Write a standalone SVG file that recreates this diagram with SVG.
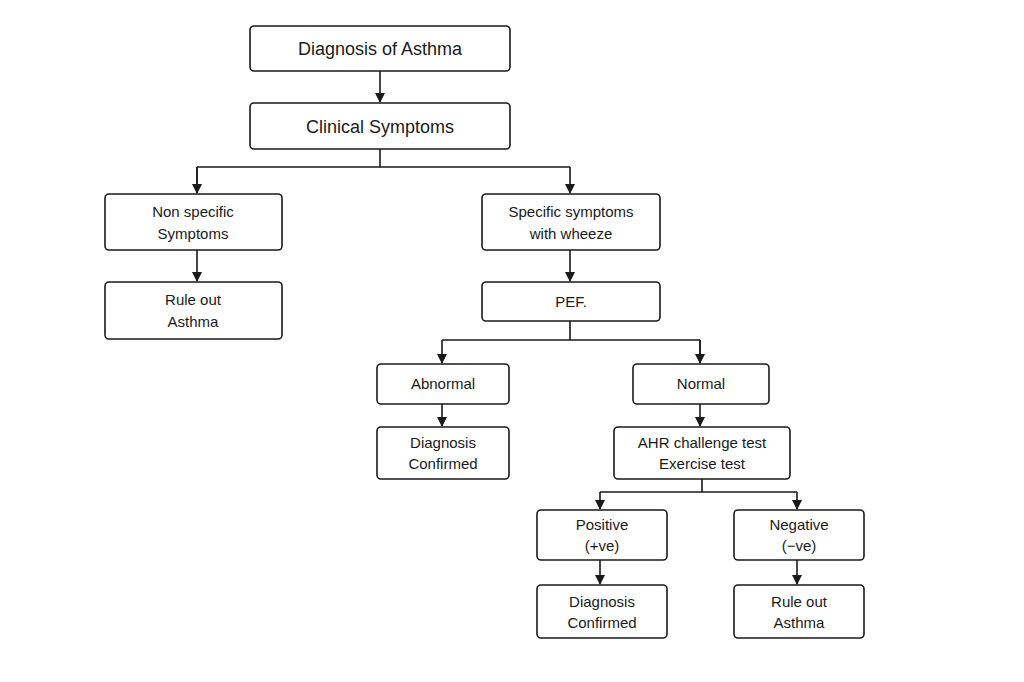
<svg xmlns="http://www.w3.org/2000/svg" width="1024" height="682" viewBox="0 0 1024 682">
<style>
.b{fill:#fff;stroke:#1a1a1a;stroke-width:1.6}
.t{font-family:"Liberation Sans",Arial,sans-serif;font-size:15px;fill:#1a1a1a;text-anchor:middle}
.L{font-size:18px}
.c{fill:none;stroke:#1a1a1a;stroke-width:1.6}
</style>
<defs><marker id="a" markerWidth="10" markerHeight="10" refX="9" refY="5" orient="auto" markerUnits="userSpaceOnUse"><path d="M0,0L10,5L0,10z" fill="#1a1a1a"/></marker></defs>
<rect width="1024" height="682" fill="#fff"/>
<g id="connectors">
<path class="c" d="M380,71V102" marker-end="url(#a)"/>
<path class="c" d="M380,149V167M197,167H570M197,167V193M570,167V193" marker-end="url(#a)"/>
<path class="c" d="M197,167V193" marker-end="url(#a)"/>
<path class="c" d="M197,250V281" marker-end="url(#a)"/>
<path class="c" d="M570,250V281" marker-end="url(#a)"/>
<path class="c" d="M570,321V340M442,340H700M700,340V363"/>
<path class="c" d="M442,340V363" marker-end="url(#a)"/>
<path class="c" d="M700,340V363" marker-end="url(#a)"/>
<path class="c" d="M442,404V426" marker-end="url(#a)"/>
<path class="c" d="M700,404V426" marker-end="url(#a)"/>
<path class="c" d="M702,479V492M600,492H797"/>
<path class="c" d="M600,492V509" marker-end="url(#a)"/>
<path class="c" d="M797,492V509" marker-end="url(#a)"/>
<path class="c" d="M600,560V584" marker-end="url(#a)"/>
<path class="c" d="M797,560V584" marker-end="url(#a)"/>
</g>
<g id="n1"><rect class="b" x="250" y="26" width="260" height="45" rx="4"/><text class="t L" x="380" y="55">Diagnosis of Asthma</text></g>
<g id="n2"><rect class="b" x="250" y="103" width="260" height="46" rx="4"/><text class="t L" x="380" y="133">Clinical Symptoms</text></g>
<g id="n3"><rect class="b" x="105" y="194" width="177" height="56" rx="4"/><text class="t" x="193" y="217">Non specific</text><text class="t" x="193" y="239">Symptoms</text></g>
<g id="n4"><rect class="b" x="482" y="194" width="178" height="56" rx="4"/><text class="t" x="571" y="217">Specific symptoms</text><text class="t" x="571" y="239">with wheeze</text></g>
<g id="n5"><rect class="b" x="105" y="282" width="177" height="57" rx="4"/><text class="t" x="193" y="305">Rule out</text><text class="t" x="193" y="327">Asthma</text></g>
<g id="n6"><rect class="b" x="482" y="282" width="178" height="39" rx="4"/><text class="t" x="571" y="307">PEF.</text></g>
<g id="n7"><rect class="b" x="377" y="364" width="132" height="40" rx="4"/><text class="t" x="443" y="389">Abnormal</text></g>
<g id="n8"><rect class="b" x="633" y="364" width="136" height="40" rx="4"/><text class="t" x="701" y="389">Normal</text></g>
<g id="n9"><rect class="b" x="377" y="427" width="132" height="52" rx="4"/><text class="t" x="443" y="448">Diagnosis</text><text class="t" x="443" y="469">Confirmed</text></g>
<g id="n10"><rect class="b" x="614" y="427" width="176" height="52" rx="4"/><text class="t" x="702" y="448">AHR challenge test</text><text class="t" x="702" y="469">Exercise test</text></g>
<g id="n11"><rect class="b" x="537" y="510" width="130" height="50" rx="4"/><text class="t" x="602" y="530">Positive</text><text class="t" x="602" y="551">(+ve)</text></g>
<g id="n12"><rect class="b" x="734" y="510" width="130" height="50" rx="4"/><text class="t" x="799" y="530">Negative</text><text class="t" x="799" y="551">(−ve)</text></g>
<g id="n13"><rect class="b" x="537" y="585" width="130" height="53" rx="4"/><text class="t" x="602" y="607">Diagnosis</text><text class="t" x="602" y="628">Confirmed</text></g>
<g id="n14"><rect class="b" x="734" y="585" width="130" height="53" rx="4"/><text class="t" x="799" y="607">Rule out</text><text class="t" x="799" y="628">Asthma</text></g>
</svg>
